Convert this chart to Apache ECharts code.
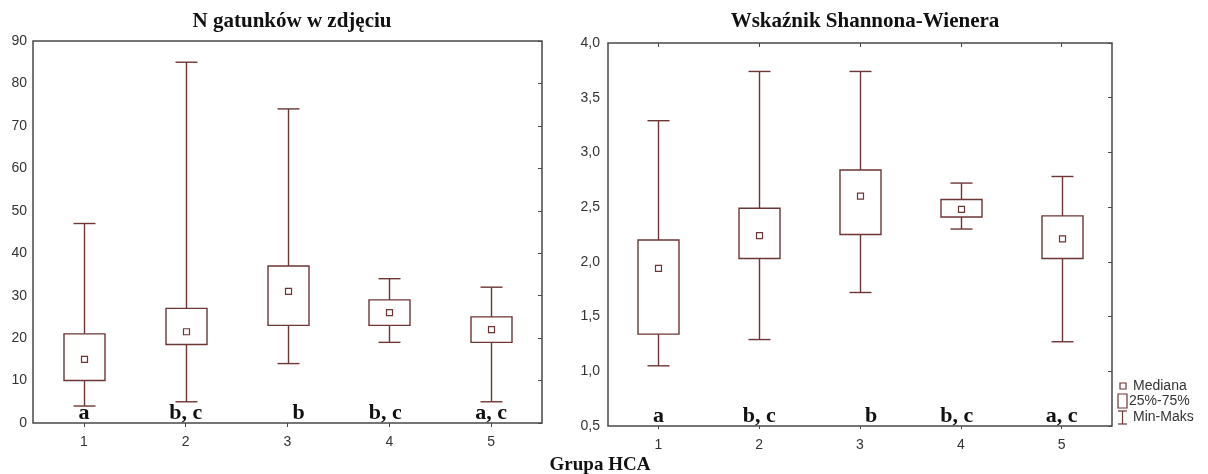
<!DOCTYPE html>
<html>
<head>
<meta charset="utf-8">
<script src="https://cdn.jsdelivr.net/npm/echarts@6/dist/echarts.min.js"></script>
<style>
html,body{margin:0;padding:0;background:#fff;}
#chart{width:1208px;height:474px;}
</style>
</head>
<body>
<div id="chart"></div>
<script>
// ---------- data ----------
const categories = ['1', '2', '3', '4', '5'];
// [min, q1, median, q3, max]
const speciesStats = [
  [4, 10, 15, 21, 47],
  [5, 18.5, 21.5, 27, 85],
  [14, 23, 31, 37, 74],
  [19, 23, 26, 29, 34],
  [5, 19, 22, 25, 32]
];
const shannonStats = [
  [1.05, 1.34, 1.94, 2.20, 3.29],
  [1.29, 2.03, 2.24, 2.49, 3.74],
  [1.72, 2.25, 2.60, 2.84, 3.74],
  [2.30, 2.41, 2.48, 2.57, 2.72],
  [1.27, 2.03, 2.21, 2.42, 2.78]
];
const groupLetters = ['a', 'b, c', 'b', 'b, c', 'a, c'];
const speciesAxis = { min: 0, max: 90, interval: 10 };
const shannonAxis = { min: 0.5, max: 4.0, interval: 0.5 };
const titles = ['N gatunków w zdjęciu', 'Wskaźnik Shannona-Wienera'];
const xAxisName = 'Grupa HCA';
const legendLabels = ['Mediana', '25%-75%', 'Min-Maks'];

// ---------- style ----------
const markColor = '#6e3535';
const frameColor = '#484848';
const labelColor = '#333';
const letterDx = [0, 0, 11, -4, 0];

const chart = echarts.init(document.getElementById('chart'), null, { renderer: 'canvas' });

function renderBox(params, api) {
  const x = api.value(0);
  const lo = api.coord([x, api.value(1)]);
  const q1 = api.coord([x, api.value(2)]);
  const med = api.coord([x, api.value(3)]);
  const q3 = api.coord([x, api.value(4)]);
  const hi = api.coord([x, api.value(5)]);
  const bw = 41, cw = 22, ms = 6;
  const cx = Math.round(lo[0]) + 0.5;
  const st = { stroke: markColor, lineWidth: 1.4, fill: null };
  return {
    type: 'group',
    children: [
      { type: 'line', shape: { x1: cx, y1: hi[1], x2: cx, y2: q3[1] }, style: st },
      { type: 'line', shape: { x1: cx, y1: q1[1], x2: cx, y2: lo[1] }, style: st },
      { type: 'line', shape: { x1: cx - cw / 2, y1: hi[1], x2: cx + cw / 2, y2: hi[1] }, style: st },
      { type: 'line', shape: { x1: cx - cw / 2, y1: lo[1], x2: cx + cw / 2, y2: lo[1] }, style: st },
      { type: 'rect', shape: { x: cx - bw / 2, y: q3[1], width: bw, height: q1[1] - q3[1] }, style: { stroke: markColor, lineWidth: 1.4, fill: '#fff' } },
      { type: 'rect', shape: { x: cx - ms / 2, y: med[1] - ms / 2, width: ms, height: ms }, style: { stroke: markColor, lineWidth: 1.2, fill: '#fff' } }
    ]
  };
}

function renderLetter(params, api) {
  const i = api.value(0);
  const p = api.coord([i, api.value(1)]);
  return {
    type: 'text',
    x: p[0] + letterDx[i],
    y: p[1] - 10,
    style: {
      text: groupLetters[i],
      fill: '#111',
      font: 'bold 22px "Liberation Serif", "Times New Roman", serif',
      align: 'center',
      verticalAlign: 'middle'
    }
  };
}

const grids = [
  { left: 33, top: 41, width: 509, height: 382 },
  { left: 608, top: 43, width: 504, height: 383 }
];

function boxData(stats) {
  return stats.map((s, i) => [i, s[0], s[1], s[2], s[3], s[4]]);
}

const xAxes = [], yAxes = [];
[0, 1].forEach(g => {
  xAxes.push({
    type: 'category', gridIndex: g, data: categories, position: 'bottom',
    axisLine: { show: false },
    axisTick: { show: true, alignWithLabel: true, length: 3, lineStyle: { color: frameColor } },
    axisLabel: { color: labelColor, fontSize: 14, fontFamily: '"Liberation Sans", Arial, sans-serif', margin: 12 },
    splitLine: { show: false }
  });
  xAxes.push({
    type: 'category', gridIndex: g, data: categories, position: 'top',
    axisLine: { show: false },
    axisTick: { show: true, alignWithLabel: true, inside: true, length: 4, lineStyle: { color: frameColor } },
    axisLabel: { show: false },
    splitLine: { show: false }
  });
});
[speciesAxis, shannonAxis].forEach((ax, g) => {
  yAxes.push({
    type: 'value', gridIndex: g, min: ax.min, max: ax.max, interval: ax.interval, position: 'left',
    axisLine: { show: false },
    axisTick: { show: false },
    axisLabel: {
      color: labelColor, fontSize: 14, fontFamily: '"Liberation Sans", Arial, sans-serif',
      margin: g === 0 ? 6 : 8,
      formatter: v => g === 0 ? String(v) : v.toFixed(1).replace('.', ',')
    },
    splitLine: { show: false }
  });
  yAxes.push({
    type: 'value', gridIndex: g, min: ax.min, max: ax.max, interval: ax.interval, position: 'right',
    axisLine: { show: false },
    axisTick: { show: true, inside: true, length: 4, lineStyle: { color: frameColor } },
    axisLabel: { show: false },
    splitLine: { show: false }
  });
});

const legendX = 1118, legendY = [386, 401, 417];
const legendFont = '14px "Liberation Sans", Arial, sans-serif';

const option = {
  backgroundColor: '#fff',
  animation: false,
  title: [
    { text: titles[0], left: 287, top: 6, textAlign: 'center',
      textStyle: { fontFamily: '"Liberation Serif", "Times New Roman", serif', fontWeight: 'bold', fontSize: 21, color: '#111' } },
    { text: titles[1], left: 860, top: 6, textAlign: 'center',
      textStyle: { fontFamily: '"Liberation Serif", "Times New Roman", serif', fontWeight: 'bold', fontSize: 21, color: '#111' } },
    { text: xAxisName, left: 595, top: 451, textAlign: 'center',
      textStyle: { fontFamily: '"Liberation Serif", "Times New Roman", serif', fontWeight: 'bold', fontSize: 19, color: '#111' } }
  ],
  grid: grids.map(g => Object.assign({ show: true, borderColor: frameColor, borderWidth: 1.5, backgroundColor: '#fff' }, g)),
  xAxis: xAxes,
  yAxis: yAxes,
  series: [
    { type: 'custom', xAxisIndex: 0, yAxisIndex: 0, renderItem: renderBox, data: boxData(speciesStats), encode: { x: 0, y: [1, 2, 3, 4, 5] } },
    { type: 'custom', xAxisIndex: 2, yAxisIndex: 2, renderItem: renderBox, data: boxData(shannonStats), encode: { x: 0, y: [1, 2, 3, 4, 5] } },
    { type: 'custom', xAxisIndex: 0, yAxisIndex: 0, renderItem: renderLetter, data: groupLetters.map((l, i) => [i, speciesAxis.min]), z: 5 },
    { type: 'custom', xAxisIndex: 2, yAxisIndex: 2, renderItem: renderLetter, data: groupLetters.map((l, i) => [i, shannonAxis.min]), z: 5 }
  ],
  graphic: [
    { type: 'rect', shape: { x: legendX + 2, y: legendY[0] - 3, width: 6, height: 6 }, style: { stroke: markColor, lineWidth: 1.2, fill: '#fff' } },
    { type: 'text', x: legendX + 15, y: legendY[0], style: { text: legendLabels[0], font: legendFont, fill: labelColor, verticalAlign: 'middle' } },
    { type: 'rect', shape: { x: legendX, y: legendY[1] - 7, width: 9, height: 14 }, style: { stroke: markColor, lineWidth: 1.2, fill: '#fff' } },
    { type: 'text', x: legendX + 11, y: legendY[1], style: { text: legendLabels[1], font: legendFont, fill: labelColor, verticalAlign: 'middle' } },
    { type: 'line', shape: { x1: legendX + 4.5, y1: legendY[2] - 6, x2: legendX + 4.5, y2: legendY[2] + 7 }, style: { stroke: markColor, lineWidth: 1.2 } },
    { type: 'line', shape: { x1: legendX, y1: legendY[2] - 6, x2: legendX + 9, y2: legendY[2] - 6 }, style: { stroke: markColor, lineWidth: 1.2 } },
    { type: 'line', shape: { x1: legendX, y1: legendY[2] + 7, x2: legendX + 9, y2: legendY[2] + 7 }, style: { stroke: markColor, lineWidth: 1.2 } },
    { type: 'text', x: legendX + 15, y: legendY[2], style: { text: legendLabels[2], font: legendFont, fill: labelColor, verticalAlign: 'middle' } }
  ]
};
chart.setOption(option);
</script>
</body>
</html>
